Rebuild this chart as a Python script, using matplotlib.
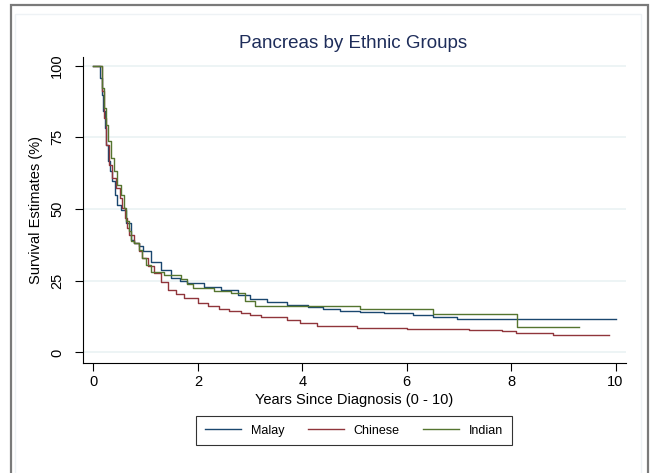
import matplotlib
matplotlib.use("Agg")
import matplotlib.pyplot as plt
from matplotlib.patches import Rectangle

# Kaplan-Meier step curves (years, survival %)
malay_t = [0, 0.1, 0.124, 0.156, 0.188, 0.22, 0.25, 0.28, 0.315, 0.36, 0.405, 0.455, 0.52,
           0.615, 0.71, 0.78, 0.87, 0.95, 1.1, 1.29, 1.48, 1.65, 1.8, 2.11, 2.44, 2.76, 3.0,
           3.33, 3.71, 4.1, 4.4, 4.73, 5.11, 5.56, 6.13, 6.5, 6.96, 10.0]
malay_s = [100, 100, 95.6, 89.8, 84.0, 78.2, 72.4, 66.6, 63.1, 59.6, 55.0, 51.5, 49.8,
           45.1, 39.3, 38.2, 37.0, 35.2, 31.6, 28.7, 26.0, 25.0, 24.3, 22.9, 21.8, 20.0, 18.5,
           17.5, 16.5, 16.0, 15.0, 14.6, 14.2, 13.9, 13.1, 12.3, 11.7, 11.7]

chinese_t = [0, 0.1, 0.156, 0.2, 0.245, 0.296, 0.36, 0.424, 0.5, 0.55, 0.6, 0.646, 0.69,
             0.775, 0.87, 0.93, 1.05, 1.16, 1.3, 1.42, 1.58, 1.74, 2.0, 2.2, 2.4, 2.6, 2.82,
             3.0, 3.2, 3.7, 3.95, 4.28, 5.05, 6.0, 6.45, 7.2, 7.73, 7.83, 8.1, 8.8, 9.87]
chinese_s = [100, 100, 91.0, 81.7, 72.4, 65.4, 60.8, 57.3, 53.8, 50.3, 46.9, 43.4, 41.0,
             38.2, 35.3, 32.9, 30.0, 27.6, 24.5, 21.8, 20.3, 18.9, 17.3, 16.2, 15.3, 14.6, 13.9,
             13.0, 12.4, 11.3, 10.3, 9.3, 8.6, 8.3, 8.1, 7.9, 7.7, 7.3, 6.9, 6.0, 6.0]

indian_t = [0, 0.1, 0.156, 0.2, 0.245, 0.283, 0.33, 0.39, 0.455, 0.52, 0.58, 0.63, 0.68,
            0.71, 0.775, 0.87, 0.93, 1.0, 1.1, 1.35, 1.67, 1.8, 1.9, 2.3, 2.63, 2.9, 3.1,
            5.11, 6.5, 8.12, 9.3]
indian_s = [100, 100, 92.2, 85.2, 79.4, 73.6, 67.8, 63.1, 58.5, 55.0, 50.3, 45.7, 42.2,
            38.7, 38.2, 35.8, 32.9, 30.5, 28.0, 27.0, 25.5, 24.0, 22.5, 21.5, 20.6, 17.8, 16.3,
            15.0, 13.4, 8.9, 8.9]

groups = ["Malay", "Chinese", "Indian"]
colors = ["#1a476f", "#90353b", "#55752f"]

plt.rcParams['font.family'] = ['Liberation Sans', 'DejaVu Sans']

fig = plt.figure(figsize=(6.52, 4.73), dpi=100)
fig.patch.set_facecolor("white")

# outer frame like the Stata graph region
fig.patches.append(Rectangle((11 / 652, -0.05), 637 / 652, 1.0 - 5 / 473 + 0.05,
                             transform=fig.transFigure, fill=False,
                             edgecolor="#7a7a7a", linewidth=1.6))
fig.patches.append(Rectangle((15 / 652, -0.05), 626 / 652, 1.0 - 14 / 473 + 0.05,
                             transform=fig.transFigure, fill=False,
                             edgecolor="#eef2f5", linewidth=1.0))

ax = fig.add_axes([83 / 652, 110 / 473, 543 / 652, 306 / 473])
ax.set_facecolor("white")

for name, t, s, c in zip(groups, [malay_t, chinese_t, indian_t],
                         [malay_s, chinese_s, indian_s], colors):
    ax.step(t, s, where="post", color=c, linewidth=1.0, label=name)

ax.set_xlim(-0.2, 10.2)
ax.set_ylim(-3.7, 103)
ax.set_xticks([0, 2, 4, 6, 8, 10])
ax.set_yticks([0, 25, 50, 75, 100])
ax.set_yticklabels(["0", "25", "50", "75", "100"], rotation=90, va="center")
ax.tick_params(direction="out", length=6, width=0.8, labelsize=10.5, colors="black")
ax.tick_params(axis="x", pad=2.5)
ax.tick_params(axis="y", pad=7.5)
ax.yaxis.grid(True, color="#eaf2f3", linewidth=1.2)
ax.set_axisbelow(True)
for side in ["top", "right"]:
    ax.spines[side].set_visible(False)
for side in ["left", "bottom"]:
    ax.spines[side].set_linewidth(0.8)

ax.set_xlabel("Years Since Diagnosis (0 - 10)", fontsize=10.5, labelpad=3)
ax.set_ylabel("Survival Estimates (%)", fontsize=10.5, labelpad=5)
fig.text(353 / 652, 1 - 43 / 473, "Pancreas by Ethnic Groups", ha="center", va="center",
         fontsize=13.5, color="#1e2d5a")

leg = fig.legend(loc="center", bbox_to_anchor=(354 / 652, 1 - 430.5 / 473), ncol=3,
                 fontsize=9, frameon=True, fancybox=False, handlelength=2.9,
                 columnspacing=1.9, handletextpad=0.75, borderpad=0.7)
leg.get_frame().set_edgecolor("black")
leg.get_frame().set_linewidth(0.8)

fig.savefig("out.png", dpi=100)
